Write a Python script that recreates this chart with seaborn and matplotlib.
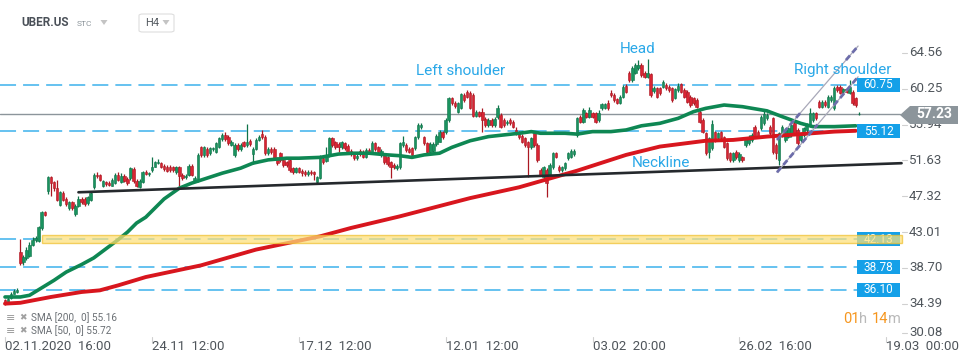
import numpy as np
import pandas as pd
import matplotlib
matplotlib.use("Agg")
import matplotlib.pyplot as plt
import seaborn as sns
from matplotlib.patches import Rectangle, Polygon, FancyBboxPatch
from matplotlib.transforms import blended_transform_factory


# ======================================================
# DATA  (UBER.US H4 candles)
# ======================================================

opens = [
    34.8, 34.4, 35.1, 35.6, 35.8, 40.6, 39.4, 39.9, 40.1, 41.4,
    42.0, 41.9, 43.5, 45.4, 47.9, 49.6, 49.0, 48.3, 46.3, 47.7,
    47.0, 45.9, 46.6, 45.2, 46.2, 47.0, 47.0, 46.5, 46.9, 48.4,
    49.9, 49.9, 48.5, 49.0, 48.9, 48.6, 48.9, 49.9, 49.0, 49.8,
    49.4, 49.5, 50.6, 49.2, 48.4, 49.0, 50.3, 50.0, 50.5, 50.9,
    51.3, 51.3, 51.0, 50.8, 50.9, 50.8, 50.2, 50.8, 49.9, 49.6,
    49.9, 51.0, 49.2, 49.1, 53.2, 52.3, 53.0, 52.5, 53.0, 52.6,
    53.3, 54.2, 54.7, 54.5, 53.5, 52.3, 53.5, 53.0, 53.8, 53.5,
    54.0, 52.4, 53.0, 54.1, 54.8, 54.5, 52.5, 53.0, 53.0, 51.9,
    52.5, 51.7, 51.4, 51.7, 50.7, 50.3, 50.7, 50.4, 50.3, 50.0,
    50.3, 50.2, 49.0, 49.5, 51.9, 51.6, 52.3, 54.3, 53.8, 53.6,
    53.2, 53.7, 53.4, 52.8, 52.5, 51.9, 52.8, 52.7, 52.1, 52.9,
    52.6, 53.7, 53.2, 52.3, 52.3, 52.0, 51.4, 51.1, 50.7, 50.8,
    53.5, 53.5, 53.0, 53.1, 53.1, 54.4, 55.6, 54.4, 53.7, 52.6,
    52.8, 53.6, 53.9, 55.0, 55.0, 56.5, 59.1, 58.6, 57.5, 58.0,
    59.5, 59.9, 59.8, 59.5, 57.0, 57.4, 57.5, 56.6, 55.9, 56.5,
    55.9, 56.8, 57.1, 56.5, 56.1, 56.5, 56.3, 55.3, 55.0, 54.6,
    54.3, 53.8, 53.2, 54.9, 53.5, 50.5, 49.6, 50.5, 49.9, 50.8,
    52.5, 50.9, 50.5, 50.7, 51.9, 52.1, 52.4, 54.7, 56.9, 56.3,
    57.3, 56.9, 57.3, 57.3, 56.5, 57.9, 58.0, 58.5, 59.8, 59.5,
    59.0, 58.6, 59.3, 60.6, 62.2, 61.3, 62.2, 62.7, 63.1, 62.2,
    61.7, 62.0, 60.0, 60.3, 60.3, 60.5, 60.7, 60.5, 60.3, 59.2,
    60.1, 60.8, 60.1, 59.9, 59.3, 59.1, 58.9, 57.5, 56.5, 54.9,
    52.6, 53.1, 55.0, 54.3, 55.0, 54.4, 53.7, 52.5, 51.7, 52.7,
    51.7, 52.0, 53.5, 53.7, 54.1, 55.7, 55.1, 55.5, 56.1, 56.7,
    55.7, 56.7, 53.5, 51.7, 54.7, 54.1, 54.5, 54.7, 56.1, 55.3,
    54.1, 54.7, 55.3, 55.9, 56.5, 57.3, 58.7, 58.1, 58.7, 58.1,
    58.9, 57.9, 60.5, 60.5, 59.9, 60.2, 59.8, 59.9, 59.1, 57.2,
]
highs = [
    35.0, 35.2, 35.8, 36.2, 36.3, 42.2, 40.3, 41.2, 41.8, 42.4,
    42.5, 43.8, 45.6, 45.6, 49.7, 49.8, 49.1, 49.3, 48.0, 47.9,
    47.2, 46.8, 46.8, 46.4, 47.3, 47.2, 47.2, 47.4, 47.9, 50.1,
    50.3, 50.0, 49.3, 49.2, 49.1, 49.5, 50.1, 50.2, 50.1, 50.0,
    49.6, 50.9, 50.8, 49.4, 49.4, 50.4, 50.5, 50.3, 52.0, 51.6,
    51.8, 51.5, 51.2, 51.1, 51.1, 51.0, 51.0, 51.0, 50.1, 50.0,
    51.2, 51.2, 49.7, 52.5, 53.4, 53.4, 53.2, 53.3, 53.3, 53.9,
    54.5, 54.9, 55.0, 54.7, 54.1, 53.7, 53.7, 53.7, 54.0, 56.0,
    54.2, 53.2, 54.3, 54.7, 55.3, 54.7, 53.2, 53.2, 53.2, 52.0,
    52.7, 51.9, 51.6, 51.9, 50.9, 50.9, 50.9, 50.6, 50.5, 50.5,
    50.5, 50.4, 49.8, 52.3, 52.1, 53.2, 54.5, 54.5, 54.0, 53.8,
    54.0, 53.9, 53.6, 53.0, 52.7, 52.4, 53.0, 52.9, 53.1, 53.1,
    54.0, 53.9, 53.4, 53.0, 52.5, 52.2, 51.6, 51.3, 51.2, 53.9,
    54.6, 53.7, 53.2, 53.3, 54.6, 56.1, 56.1, 54.6, 53.9, 53.8,
    53.9, 54.8, 55.3, 55.2, 56.7, 59.3, 59.3, 58.8, 58.7, 59.8,
    59.7, 60.1, 60.0, 59.7, 57.7, 57.6, 57.9, 56.8, 56.7, 56.7,
    56.8, 58.3, 57.3, 56.7, 56.5, 56.7, 56.5, 55.6, 55.2, 54.8,
    54.5, 54.0, 54.5, 55.1, 53.7, 50.7, 51.0, 50.7, 51.3, 52.7,
    52.7, 51.1, 51.0, 51.5, 52.7, 53.0, 53.0, 56.9, 57.1, 58.0,
    57.5, 58.1, 57.5, 57.5, 57.7, 58.6, 58.6, 58.9, 60.1, 59.7,
    59.2, 59.5, 60.7, 60.8, 62.4, 63.0, 63.3, 63.7, 63.3, 62.4,
    63.8, 62.2, 60.6, 60.5, 60.5, 61.3, 60.9, 60.7, 60.5, 60.4,
    61.0, 61.0, 60.3, 60.1, 59.5, 59.3, 59.1, 57.7, 56.7, 55.1,
    54.5, 56.5, 55.2, 55.1, 55.2, 54.6, 53.9, 52.7, 52.7, 52.9,
    52.6, 52.2, 54.4, 54.7, 54.9, 55.9, 55.3, 57.1, 57.6, 57.3,
    55.9, 56.9, 53.7, 55.1, 55.9, 55.5, 55.7, 56.1, 56.3, 55.5,
    54.9, 55.7, 56.1, 58.0, 57.5, 57.5, 58.9, 58.9, 58.9, 59.5,
    59.5, 60.6, 60.7, 60.7, 60.4, 60.4, 61.3, 60.1, 59.3, 57.4,
]
lows = [
    34.2, 34.3, 35.0, 35.5, 35.7, 39.1, 39.0, 39.7, 40.0, 41.3,
    41.8, 41.8, 43.3, 44.9, 47.6, 47.3, 48.0, 46.7, 46.1, 46.7,
    46.2, 45.7, 45.7, 44.9, 46.0, 46.4, 46.2, 46.3, 46.8, 48.2,
    49.5, 49.1, 48.4, 48.6, 48.5, 48.5, 48.8, 49.1, 48.9, 49.0,
    48.7, 49.3, 48.9, 48.4, 48.3, 48.9, 49.9, 49.8, 50.3, 50.8,
    51.2, 50.7, 50.4, 50.2, 50.2, 50.3, 50.0, 48.5, 49.3, 49.4,
    49.8, 49.8, 49.0, 49.0, 52.1, 52.1, 52.1, 52.3, 52.8, 52.5,
    53.1, 54.0, 54.0, 53.5, 53.4, 52.1, 52.8, 52.8, 53.2, 53.3,
    53.4, 51.2, 52.9, 54.0, 54.2, 52.3, 52.3, 52.4, 51.7, 51.1,
    51.5, 50.9, 50.9, 50.3, 50.0, 50.1, 50.1, 49.8, 49.8, 49.8,
    49.9, 49.3, 48.9, 49.4, 51.2, 51.4, 52.1, 53.3, 53.0, 52.6,
    53.0, 52.9, 52.4, 52.2, 51.7, 51.7, 52.2, 51.9, 51.9, 52.5,
    52.4, 52.8, 52.4, 52.1, 51.2, 51.0, 49.5, 50.6, 50.5, 50.6,
    53.3, 52.7, 52.5, 52.1, 52.9, 54.2, 55.4, 53.5, 52.4, 52.4,
    52.6, 53.4, 53.8, 54.2, 54.8, 56.3, 58.3, 58.0, 57.3, 57.8,
    58.7, 59.1, 57.8, 56.8, 56.8, 56.8, 55.1, 55.7, 55.7, 55.7,
    55.7, 56.6, 55.5, 55.7, 55.9, 55.9, 55.5, 54.7, 54.2, 53.7,
    53.3, 49.6, 53.0, 53.3, 51.5, 49.7, 49.4, 47.2, 49.7, 50.6,
    51.9, 50.3, 50.3, 50.5, 51.7, 51.9, 52.2, 54.5, 56.1, 56.1,
    56.7, 56.7, 56.7, 56.1, 56.3, 57.7, 57.8, 57.7, 59.3, 58.7,
    58.4, 58.4, 59.1, 59.7, 61.1, 61.1, 62.0, 62.5, 61.7, 61.5,
    61.5, 59.3, 59.8, 59.1, 59.5, 60.3, 60.1, 59.9, 58.7, 59.0,
    59.9, 59.7, 59.1, 58.5, 58.1, 58.3, 57.9, 56.1, 54.9, 52.3,
    51.9, 52.9, 53.9, 54.1, 54.1, 53.1, 51.7, 51.5, 51.5, 51.8,
    51.5, 51.5, 53.3, 53.5, 53.9, 54.3, 54.3, 55.3, 55.9, 56.5,
    54.7, 52.4, 51.8, 51.1, 54.5, 53.9, 54.3, 54.5, 54.7, 53.5,
    53.9, 54.5, 55.1, 55.7, 56.3, 56.5, 57.9, 57.9, 58.1, 57.9,
    58.7, 57.7, 59.9, 59.6, 59.7, 59.7, 59.6, 58.3, 58.1, 57.1,
]
closes = [
    34.4, 35.0, 35.6, 35.9, 36.1, 39.3, 40.0, 40.8, 41.5, 42.1,
    42.3, 43.6, 45.4, 45.1, 49.6, 48.9, 48.3, 46.9, 47.8, 46.9,
    46.4, 46.6, 45.9, 46.2, 47.0, 46.6, 46.4, 47.2, 47.7, 49.9,
    49.7, 49.3, 49.1, 48.8, 48.7, 49.3, 49.9, 49.3, 49.8, 49.2,
    48.9, 50.7, 49.1, 48.5, 49.2, 50.2, 50.0, 50.1, 50.9, 51.4,
    51.5, 50.8, 50.6, 50.4, 50.5, 50.5, 50.8, 49.7, 49.5, 49.8,
    51.0, 49.9, 49.5, 52.3, 52.3, 53.2, 52.3, 53.1, 53.1, 53.7,
    54.3, 54.7, 54.2, 53.7, 53.9, 53.5, 53.0, 53.5, 53.4, 53.8,
    53.6, 53.0, 54.1, 54.5, 54.4, 52.5, 53.0, 52.6, 51.9, 51.3,
    51.7, 51.1, 51.1, 50.5, 50.2, 50.7, 50.3, 50.1, 50.0, 50.3,
    50.1, 50.0, 49.6, 52.0, 51.4, 52.2, 54.3, 53.5, 53.2, 53.2,
    53.8, 53.1, 52.6, 52.4, 51.9, 52.2, 52.4, 52.1, 52.9, 52.7,
    53.7, 53.0, 52.6, 52.8, 51.4, 51.2, 50.9, 50.8, 51.0, 53.7,
    53.9, 52.9, 52.7, 52.3, 54.4, 55.9, 55.9, 53.7, 52.6, 53.6,
    53.6, 54.6, 55.0, 54.4, 56.5, 59.1, 58.5, 58.2, 58.5, 59.6,
    58.9, 59.3, 58.0, 57.0, 57.5, 57.0, 56.5, 55.9, 56.5, 55.9,
    56.6, 57.9, 55.7, 55.9, 56.3, 56.1, 55.7, 54.9, 54.4, 53.9,
    53.5, 53.2, 54.3, 53.5, 51.7, 49.9, 50.8, 48.9, 51.1, 52.5,
    52.1, 50.5, 50.8, 51.3, 52.5, 52.8, 52.8, 56.7, 56.3, 57.7,
    56.9, 57.7, 56.9, 56.3, 57.3, 58.4, 58.4, 57.9, 59.5, 58.9,
    58.6, 59.3, 60.5, 59.9, 61.3, 62.8, 63.1, 63.1, 61.9, 61.7,
    62.2, 59.5, 60.4, 59.3, 59.7, 61.1, 60.3, 60.1, 58.9, 60.2,
    60.6, 59.9, 59.3, 58.7, 58.3, 58.5, 58.1, 56.3, 55.1, 52.5,
    54.3, 56.0, 54.1, 54.9, 54.3, 53.3, 51.9, 51.7, 52.5, 52.0,
    52.4, 51.7, 54.2, 54.5, 54.7, 54.5, 54.5, 56.9, 57.2, 57.1,
    54.9, 52.6, 52.5, 54.9, 55.7, 55.3, 55.5, 55.9, 54.9, 53.7,
    54.7, 55.5, 55.9, 57.3, 57.3, 56.7, 58.1, 58.7, 58.3, 59.3,
    59.3, 60.4, 60.1, 59.8, 60.2, 59.9, 60.5, 58.5, 58.3, 57.23,
]

# moving averages, sampled at bar indices
sma50_idx = [0, 5, 8, 12, 16, 20, 25, 29, 33, 37, 40, 43, 46, 52, 57, 61, 66, 71, 77, 81,
             86, 92, 96, 103, 109, 114, 119, 125, 129, 133, 137, 142, 146, 152, 158, 163, 168, 172, 175, 179,
             183, 187, 192, 198, 203, 208, 214, 220, 225, 229, 235, 241, 249, 254, 260, 264, 271, 278]
sma50_val = [35.2, 35.2, 35.4, 36.3, 37.2, 38.2, 39.1, 39.9, 41.0, 42.1, 43.0, 44.1, 44.8, 47.0, 48.3, 48.9, 49.5, 50.1, 50.7, 51.3,
             51.7, 51.9, 51.9, 52.0, 52.4, 52.5, 52.5, 52.3, 52.2, 52.0, 52.3, 52.5, 53.2, 54.0, 54.5, 54.7, 54.9, 55.1, 54.9, 54.9,
             54.9, 54.8, 55.1, 55.1, 55.3, 55.8, 56.1, 56.7, 57.5, 57.9, 58.3, 58.1, 57.6, 56.9, 56.1, 55.7, 55.7, 55.8]
sma200_idx = [0, 5, 15, 25, 31, 37, 46, 64, 82, 103, 113, 129, 152, 168, 187, 203, 214, 229, 238, 249, 260, 271, 278]
sma200_val = [34.4, 34.5, 35.2, 35.8, 36.0, 36.6, 37.6, 39.0, 40.9, 42.5, 43.5, 44.9, 47.1, 48.4, 50.4, 52.3, 53.3, 54.0, 54.1, 54.5,
              54.8, 55.1, 55.2]

# drawn trend lines (bar index, price)
neck_idx = [24, 293]
neck_val = [47.8, 51.3]
chan_idx = [252.3, 278.8]
chan_upper = [54.1, 65.4]
chan_lower = [50.2, 61.7]

levels = [60.75, 55.12, 42.13, 38.78, 36.10]
band = [41.68, 42.62]
last_price = 57.23

ytick_vals = [64.56, 60.25, 55.94, 51.63, 47.32, 43.01, 38.70, 34.39, 30.08]
date_ticks = [0, 48, 96, 144, 192, 240, 288]
date_labels = ["02.11.2020  16:00", "24.11  12:00", "17.12  12:00", "12.01  12:00",
               "03.02  20:00", "26.02  16:00", "19.03  00:00"]

legend_lines = ["SMA [200,  0] 55.16", "SMA [50,  0] 55.72"]


# ======================================================
# LAYOUT (pixels of the 970x364 image)
# ======================================================

W, H = 970, 364
X0, DX = 5, 3.06            # x of first bar, px per bar
Y0, P0, PPU = 53, 64.56, 8.31  # y of 64.56, px per price unit

GREEN, GREEN_EDGE = "#1a935f", "#0f7349"
RED, RED_EDGE = "#d82433", "#aa1822"
BLUE = "#3cb2ec"
TAG_BLUE = "#14a0e8"
TEXT_BLUE = "#2aa8e8"
AXIS_TXT = "#4f555b"


def ix(px):
    return (px - X0) / DX


def pv(py):
    return P0 - (py - Y0) / PPU


sns.set_theme(style="white")
plt.rcParams["font.family"] = ["Roboto", "DejaVu Sans"]

fig = plt.figure(figsize=(W / 100, H / 100), dpi=100)
ax = fig.add_axes([0, 0, 1, 1])
ax.axis("off")


def ptext(x, y, s, **kw):
    return fig.text(x / W, 1 - y / H, s, **kw)


# ---------------- horizontal levels ----------------
for lv in levels:
    ax.plot([ix(0), ix(857)], [lv, lv], color=BLUE, lw=1.1,
            ls=(0, (10.5, 4.6)), zorder=1)
ax.plot([ix(0), ix(900)], [last_price, last_price], color="#8c959b", lw=1, zorder=1)

# ---------------- candles ----------------
df = pd.DataFrame({"open": opens, "high": highs, "low": lows, "close": closes})
df["idx"] = np.arange(len(df))
up = df["close"] >= df["open"]
face = np.where(up, GREEN, RED)
edge = np.where(up, GREEN_EDGE, RED_EDGE)
ax.vlines(df["idx"], df["low"], df["high"], colors=edge, lw=0.9, zorder=3)
body = (df["close"] - df["open"]).abs().clip(lower=0.07)
ax.bar(df["idx"], body, bottom=df[["open", "close"]].min(axis=1), width=0.8,
       color=face, edgecolor=edge, linewidth=0.4, zorder=4)

# ---------------- moving averages ----------------
sns.lineplot(x=sma50_idx, y=sma50_val, color="#0e8753", lw=2.6, ax=ax, zorder=5)
sns.lineplot(x=sma200_idx, y=sma200_val, color="#d8161e", lw=2.8, ax=ax, zorder=5)

# ---------------- neckline & channel ----------------
sns.lineplot(x=neck_idx, y=neck_val, color="#25292d", lw=1.9, ax=ax, zorder=6)
for line, parts in [(chan_upper, [(0.0, 0.3), (0.85, 1.0)]),
                    (chan_lower, [(0.0, 0.5), (0.7, 1.0)])]:
    ax.plot(chan_idx, line, color="#a8a8b8", lw=0.9, zorder=6)
    for a, b in parts:
        xs = [chan_idx[0] + a * (chan_idx[1] - chan_idx[0]),
              chan_idx[0] + b * (chan_idx[1] - chan_idx[0])]
        ax.plot(xs, np.interp(xs, chan_idx, line), color="#6d6daa", lw=2.0,
                ls=(0, (2.2, 1.3)), zorder=6)

# ---------------- price tags ----------------
for lv in levels:
    ax.add_patch(Rectangle((ix(857), lv - 7 / PPU), 43 / DX, 14 / PPU,
                           fc=TAG_BLUE, ec="none", zorder=7))
    ax.text(ix(878.5), lv, f"{lv:.2f}", color="white", fontsize=8.5,
            ha="center", va="center", zorder=7)

# support band (drawn over everything below it)
ax.add_patch(Rectangle((ix(42), band[0]), ix(902) - ix(42), band[1] - band[0],
                       fc="#fde07a", ec="#f0c030", lw=1, alpha=0.72, zorder=8))

# ---------------- y axis labels ----------------
ytr = blended_transform_factory(fig.transFigure, ax.transData)
for v in ytick_vals:
    yy = max(v, pv(333))
    ax.plot([902 / W, 907 / W], [yy, yy], color="#d0d0d0", lw=0.8,
            transform=ytr, zorder=2)
    ax.text(909 / W, yy, f"{v:.2f}", transform=ytr, color=AXIS_TXT,
            fontsize=9.5, ha="left", va="center", zorder=2)

# current price tag (sits on top of the 55.94 label, as in the platform)
tag = [(900, 115), (910, 106), (958, 106), (958, 124), (910, 124)]
ax.add_patch(Polygon([(ix(x), pv(y)) for x, y in tag], closed=True,
                     fc="#8c959b", ec="none", zorder=9))
ax.text(ix(934), last_price, f"{last_price:.2f}", color="white", fontsize=10,
        fontweight="bold", ha="center", va="center", zorder=10)

# ---------------- date labels ----------------
xtr = blended_transform_factory(ax.transData, fig.transFigure)
for t, lab in zip(date_ticks, date_labels):
    ax.plot([t, t], [1 - 337 / H, 1 - 342 / H], color="#d0d0d0", lw=0.8,
            transform=xtr)
    ax.text(t, 1 - 346 / H, lab, transform=xtr, color=AXIS_TXT, fontsize=9.5,
            ha="left", va="center")

# ---------------- pattern annotations ----------------
for s, x, y in [("Left shoulder", 461, 71), ("Head", 638, 49),
                ("Right shoulder", 843, 70), ("Neckline", 661, 163)]:
    ax.text(ix(x), pv(y), s, color=TEXT_BLUE, fontsize=11,
            ha="center", va="center", zorder=11)

# ---------------- header ----------------
ptext(21, 23, "UBER.US", color="#4a5058", fontsize=8.5, fontweight="bold",
      ha="left", va="center")
ptext(77, 24, "STC", color="#8a9399", fontsize=6, ha="left", va="center")
box = FancyBboxPatch((139 / W, 1 - 32 / H), 35 / W, 18 / H,
                     boxstyle="round,pad=0,rounding_size=0.004",
                     transform=fig.transFigure, fc="white", ec="#dedede", lw=0.8)
fig.add_artist(box)
ptext(145, 23, "H4", color="#555b61", fontsize=8, ha="left", va="center")
for cx in (104, 166):
    fig.add_artist(Polygon([((cx - 3.5) / W, 1 - 20 / H), ((cx + 3.5) / W, 1 - 20 / H),
                            (cx / W, 1 - 25 / H)], closed=True,
                           transform=fig.transFigure, fc="#c4c4c4", ec="none"))

# ---------------- legend ----------------
for k, line in enumerate(legend_lines):
    y = 318 + 13 * k
    ptext(6, y, "≡", color="#9a9a9a", fontsize=8, ha="left", va="center")
    ptext(19, y, "✖", color="#a0a0a0", fontsize=6.5, ha="left", va="center")
    ptext(31, y, line, color="#6a6f74", fontsize=7.2, ha="left", va="center")

# ---------------- timer ----------------
for s, x, c in [("01", 843, "#f6961e"), ("h", 859, "#b9b9b9"),
                ("14", 872, "#f6961e"), ("m", 888, "#b9b9b9")]:
    ptext(x, 319, s, color=c, fontsize=10.5, ha="left", va="center")

ax.set_xlim(ix(0), ix(W))
ax.set_ylim(pv(H), pv(0))

fig.savefig("out.png", dpi=100)
